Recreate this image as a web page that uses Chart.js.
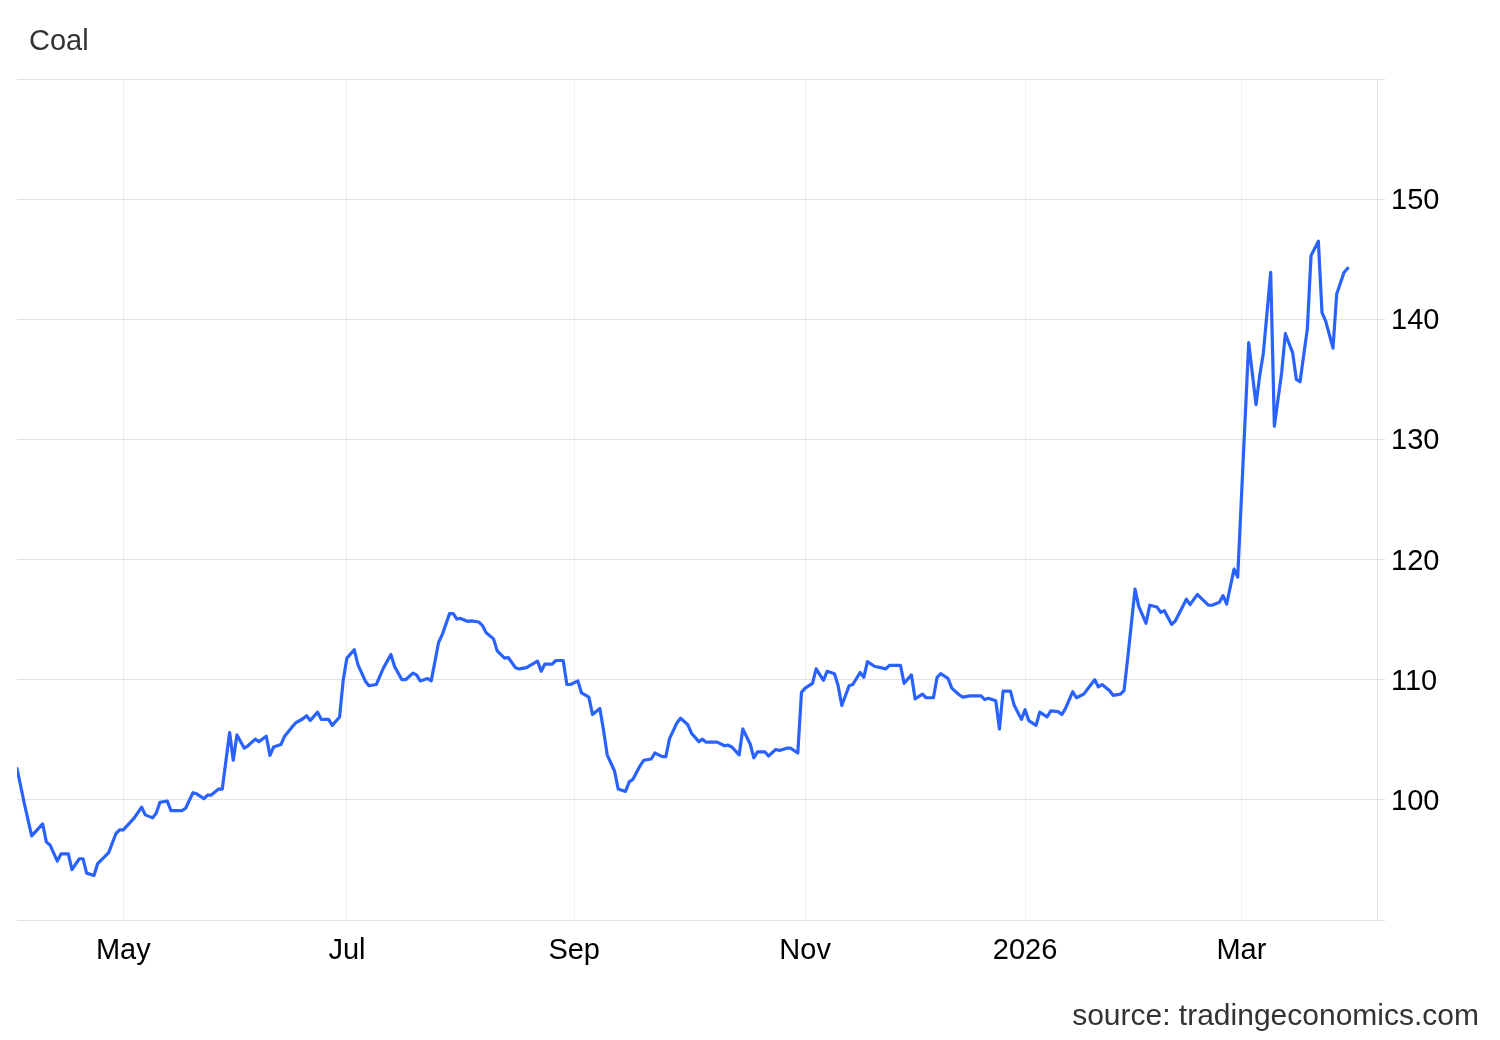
<!DOCTYPE html>
<html>
<head>
<meta charset="utf-8">
<script src="https://cdn.jsdelivr.net/npm/chart.js@4.4.1/dist/chart.umd.min.js"></script>
<style>
  html, body { margin: 0; padding: 0; background: #ffffff; }
  #wrap { position: relative; width: 1500px; height: 1040px; overflow: hidden; }
  #chart { position: absolute; left: 0; top: 0; }
  .title { position: absolute; left: 29px; top: 24px; font-family: "Liberation Sans", Arial, sans-serif; font-size: 29px; color: #333333; line-height: 1.15; white-space: nowrap; }
  .source { position: absolute; right: 21px; top: 998px; font-family: "Liberation Sans", Arial, sans-serif; font-size: 30px; color: #333333; line-height: 1.15; white-space: nowrap; }
</style>
</head>
<body>
<div id="wrap">
  <canvas id="chart" width="1500" height="1040"></canvas>
  <div class="title">Coal</div>
  <div class="source">source: tradingeconomics.com</div>
</div>
<script>
// ---- Data ----
const dates = [
  '2025-04-02','2025-04-04','2025-04-06','2025-04-09','2025-04-10','2025-04-11','2025-04-13','2025-04-14','2025-04-16','2025-04-17',
  '2025-04-19','2025-04-20','2025-04-21','2025-04-23','2025-04-24','2025-04-26','2025-04-27','2025-04-29','2025-04-30',
  '2025-05-01','2025-05-04','2025-05-06','2025-05-07','2025-05-09','2025-05-10','2025-05-11','2025-05-13','2025-05-14','2025-05-17',
  '2025-05-18','2025-05-20','2025-05-21','2025-05-23','2025-05-24','2025-05-25','2025-05-27','2025-05-28','2025-05-30','2025-05-31',
  '2025-06-01','2025-06-03','2025-06-04','2025-06-06','2025-06-07','2025-06-09','2025-06-10','2025-06-11','2025-06-13','2025-06-14',
  '2025-06-16','2025-06-17','2025-06-19','2025-06-20','2025-06-21','2025-06-23','2025-06-24','2025-06-26','2025-06-27','2025-06-29','2025-06-30',
  '2025-07-01','2025-07-03','2025-07-04','2025-07-06','2025-07-07','2025-07-09','2025-07-10','2025-07-11','2025-07-13','2025-07-14',
  '2025-07-16','2025-07-17','2025-07-19','2025-07-20','2025-07-21','2025-07-23','2025-07-24','2025-07-26','2025-07-27','2025-07-29','2025-07-30','2025-07-31',
  '2025-08-01','2025-08-03','2025-08-04','2025-08-06','2025-08-07','2025-08-08','2025-08-10','2025-08-11','2025-08-13','2025-08-14',
  '2025-08-16','2025-08-17','2025-08-19','2025-08-20','2025-08-22','2025-08-23','2025-08-24','2025-08-26','2025-08-27','2025-08-29','2025-08-30','2025-08-31',
  '2025-09-02','2025-09-03','2025-09-05','2025-09-06','2025-09-08','2025-09-09','2025-09-10','2025-09-12','2025-09-13','2025-09-15',
  '2025-09-16','2025-09-17','2025-09-19','2025-09-20','2025-09-22','2025-09-23','2025-09-25','2025-09-26','2025-09-27','2025-09-29','2025-09-30',
  '2025-10-02','2025-10-03','2025-10-05','2025-10-06','2025-10-07','2025-10-09','2025-10-10','2025-10-12','2025-10-13','2025-10-14',
  '2025-10-16','2025-10-17','2025-10-19','2025-10-20','2025-10-21','2025-10-23','2025-10-24','2025-10-26','2025-10-27','2025-10-29','2025-10-30',
  '2025-11-01','2025-11-02','2025-11-03','2025-11-05','2025-11-06','2025-11-08','2025-11-09','2025-11-11','2025-11-12','2025-11-13',
  '2025-11-15','2025-11-16','2025-11-18','2025-11-19','2025-11-20','2025-11-22','2025-11-23','2025-11-25','2025-11-26','2025-11-28','2025-11-29','2025-11-30',
  '2025-12-02','2025-12-03','2025-12-05','2025-12-06','2025-12-08','2025-12-09','2025-12-10','2025-12-12','2025-12-13','2025-12-15',
  '2025-12-16','2025-12-18','2025-12-19','2025-12-21','2025-12-22','2025-12-23','2025-12-25','2025-12-26','2025-12-27','2025-12-29','2025-12-30',
  '2026-01-01','2026-01-02','2026-01-03','2026-01-05','2026-01-06','2026-01-08','2026-01-09','2026-01-11','2026-01-12','2026-01-13',
  '2026-01-15','2026-01-16','2026-01-18','2026-01-19','2026-01-21','2026-01-22','2026-01-23','2026-01-25','2026-01-26','2026-01-28','2026-01-29','2026-01-30',
  '2026-02-01','2026-02-02','2026-02-04','2026-02-05','2026-02-07','2026-02-08','2026-02-09','2026-02-11','2026-02-12','2026-02-14',
  '2026-02-15','2026-02-16','2026-02-18','2026-02-19','2026-02-21','2026-02-22','2026-02-24','2026-02-25','2026-02-26','2026-02-28',
  '2026-03-01','2026-03-04','2026-03-06','2026-03-07','2026-03-08','2026-03-10','2026-03-11','2026-03-13','2026-03-14','2026-03-16',
  '2026-03-17','2026-03-18','2026-03-20','2026-03-21','2026-03-23','2026-03-24','2026-03-25','2026-03-27','2026-03-28','2026-03-30','2026-03-31'
];
const prices = [
  102.6, 99.7, 97.0, 98.0, 96.5, 96.25, 94.9, 95.5, 95.5, 94.2,
  95.1, 95.1, 93.9, 93.7, 94.7, 95.3, 95.6, 97.2, 97.5,
  97.5, 98.5, 99.4, 98.75, 98.5, 98.9, 99.8, 99.9, 99.1, 99.1,
  99.3, 100.6, 100.5, 100.1, 100.4, 100.4, 100.9, 100.9, 105.6, 103.3,
  105.4, 104.3, 104.5, 105.05, 104.85, 105.3, 103.7, 104.4, 104.6, 105.3,
  106.05, 106.4, 106.75, 107.0, 106.6, 107.3, 106.7, 106.7, 106.2, 106.9, 110.0,
  111.8, 112.5, 111.25, 109.9, 109.5, 109.6, 110.3, 111.0, 112.1, 111.1,
  110.0, 110.0, 110.55, 110.4, 109.9, 110.1, 109.9, 113.1, 113.75, 115.5, 115.5, 115.05,
  115.1, 114.85, 114.9, 114.8, 114.5, 113.9, 113.4, 112.4, 111.8, 111.85,
  111.0, 110.9, 111.0, 111.2, 111.55, 110.7, 111.3, 111.3, 111.6, 111.6, 109.6, 109.6,
  109.9, 108.9, 108.55, 107.1, 107.6, 105.8, 103.75, 102.4, 100.9, 100.7,
  101.5, 101.7, 102.85, 103.3, 103.4, 103.9, 103.6, 103.6, 105.1, 106.4, 106.8,
  106.25, 105.55, 104.85, 105.05, 104.8, 104.8, 104.8, 104.5, 104.55, 104.4,
  103.75, 105.9, 104.65, 103.5, 104.0, 104.0, 103.65, 104.2, 104.1, 104.3, 104.3,
  103.9, 108.95, 109.3, 109.7, 110.9, 109.95, 110.7, 110.5, 109.5, 107.85,
  109.5, 109.6, 110.6, 110.2, 111.5, 111.1, 111.05, 110.9, 111.2, 111.2, 111.2, 109.7,
  110.4, 108.4, 108.8, 108.5, 108.5, 110.2, 110.5, 110.1, 109.3, 108.75,
  108.55, 108.65, 108.65, 108.65, 108.35, 108.45, 108.25, 105.9, 109.05, 109.05, 107.9,
  106.7, 107.5, 106.6, 106.2, 107.3, 106.9, 107.4, 107.35, 107.1, 107.6,
  109.0, 108.5, 108.8, 109.2, 110.0, 109.4, 109.6, 109.1, 108.7, 108.8, 109.1, 111.8,
  117.55, 116.1, 114.7, 116.2, 116.05, 115.6, 115.75, 114.6, 114.9, 116.1,
  116.7, 116.25, 117.1, 116.8, 116.2, 116.2, 116.45, 117.0, 116.3, 119.2,
  118.55, 138.05, 132.9, 135.3, 137.2, 143.9, 131.1, 135.6, 138.8, 137.2,
  135.0, 134.8, 139.2, 145.3, 146.5, 140.55, 139.85, 137.6, 142.1, 143.9, 144.25
];
const xTickDates  = ['2025-05-01','2025-07-01','2025-09-01','2025-11-03','2026-01-02','2026-03-02'];
const xTickLabels = ['May','Jul','Sep','Nov','2026','Mar'];
const yTickLabels = ['100','110','120','130','140','150'];
const xRangeDates = ['2025-04-02','2026-04-08'];
const yRange = [90, 160];

// ---- Helpers ----
const ORIGIN = Date.UTC(2025, 0, 1);
function dayNum(s) {
  const [y, m, d] = s.split('-').map(Number);
  return Math.round((Date.UTC(y, m - 1, d) - ORIGIN) / 86400000);
}
const points = dates.map((d, i) => ({ x: dayNum(d), y: prices[i] }));
const xTickVals = xTickDates.map(dayNum);

const FONT = "'Liberation Sans', Arial, sans-serif";

new Chart(document.getElementById('chart'), {
  type: 'line',
  data: {
    datasets: [{
      label: 'Coal',
      data: points,
      borderColor: '#2962ff',
      borderWidth: 3.2,
      pointRadius: 0,
      pointHoverRadius: 0,
      tension: 0,
      fill: false,
      borderJoinStyle: 'round',
      borderCapStyle: 'round'
    }]
  },
  options: {
    responsive: false,
    devicePixelRatio: 1,
    animation: false,
    layout: { padding: { left: 17, top: 79, right: 0, bottom: 0 } },
    plugins: {
      legend: { display: false },
      tooltip: { enabled: false },
      title: { display: false }
    },
    scales: {
      x: {
        type: 'linear',
        position: 'bottom',
        min: dayNum(xRangeDates[0]),
        max: dayNum(xRangeDates[1]),
        afterBuildTicks: (scale) => { scale.ticks = xTickVals.map(v => ({ value: v })); },
        afterFit: (scale) => { scale.height = 120; },
        grid: { color: '#eceff3', lineWidth: 1, drawTicks: false },
        border: { display: true, color: '#e2e2e2', width: 1 },
        ticks: {
          autoSkip: false,
          maxRotation: 0,
          padding: 14,
          color: '#000000',
          font: { family: FONT, size: 29 },
          callback: (v) => { const i = xTickVals.indexOf(v); return i >= 0 ? xTickLabels[i] : ''; }
        }
      },
      y: {
        type: 'linear',
        position: 'right',
        min: yRange[0],
        max: yRange[1],
        afterFit: (scale) => { scale.width = 123; },
        grid: { color: '#e2e2e2', lineWidth: 1, drawTicks: true, tickLength: 8 },
        border: { display: true, color: '#e2e2e2', width: 1 },
        ticks: {
          stepSize: 10,
          padding: 6,
          labelOffset: 2,
          color: '#000000',
          font: { family: FONT, size: 29 },
          callback: (v) => yTickLabels.includes(String(v)) ? String(v) : ''
        }
      }
    }
  }
});
</script>
</body>
</html>
